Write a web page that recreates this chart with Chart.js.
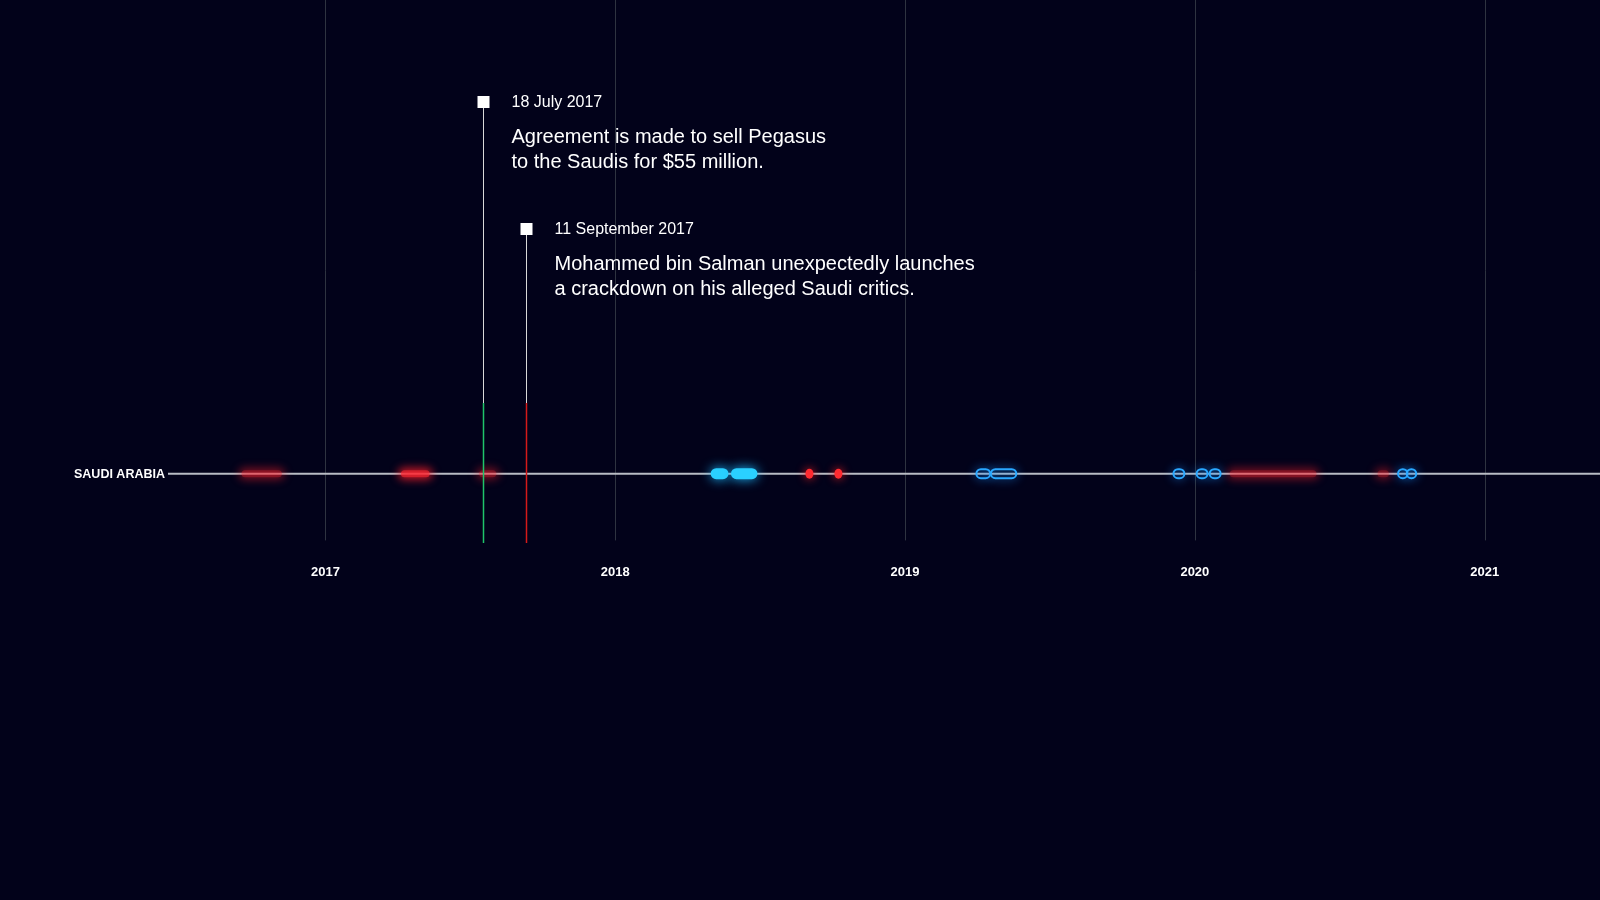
<!DOCTYPE html>
<html><head><meta charset="utf-8">
<script src="https://cdn.jsdelivr.net/npm/chart.js@4"></script>
<style>html,body{margin:0;background:#02021a;}#w{width:1600px;height:900px;}</style>
</head><body><div id="w"><canvas id="c"></canvas></div>
<script>
const years = [2017, 2018, 2019, 2020, 2021];
const rowLabel = 'SAUDI ARABIA';
// red smears: [start, end, intensity]
const redSpans = [[2016.70, 2016.86, 0.5], [2017.25, 2017.37, 1.0], [2017.52, 2017.60, 0.45], [2020.11, 2020.43, 0.45], [2020.62, 2020.68, 0.4]];
const redDots = [2018.67, 2018.77];
const blueFilled = [[2018.35, 2018.37], [2018.42, 2018.47]];
const blueRings = [[2019.26, 2019.28], [2019.31, 2019.37], [2019.94, 2019.95], [2020.02, 2020.03], [2020.065, 2020.075], [2020.715, 2020.72], [2020.745, 2020.75]];
const events = [
  {date: 2017.545, label: '18 July 2017', text: ['Agreement is made to sell Pegasus', 'to the Saudis for $55 million.'], color: '#1fc46a', top: 102},
  {date: 2017.693, label: '11 September 2017', text: ['Mohammed bin Salman unexpectedly launches', 'a crackdown on his alleged Saudi critics.'], color: '#d41a1a', top: 229}
];

const draw = {
  id: 'draw',
  beforeDatasetsDraw(chart) {
    const {ctx, chartArea: a, scales: {x, y}} = chart;
    const ry = y.getPixelForValue(0);
    ctx.save();
    ctx.strokeStyle = '#2e3340'; ctx.lineWidth = 1;
    years.forEach(v => { const px = Math.round(x.getPixelForValue(v)) + .5; ctx.beginPath(); ctx.moveTo(px, 0); ctx.lineTo(px, a.bottom); ctx.stroke(); });
    ctx.strokeStyle = '#b8bcc4'; ctx.lineWidth = 2;
    ctx.beginPath(); ctx.moveTo(168, ry); ctx.lineTo(a.right, ry); ctx.stroke();
    ctx.fillStyle = '#fff'; ctx.font = '600 12.5px "Liberation Sans", Arial'; ctx.textBaseline = 'middle';
    ctx.fillText(rowLabel, 74, ry + 1);
    redSpans.forEach(([s, e, k]) => {
      const x1 = x.getPixelForValue(s), x2 = x.getPixelForValue(e);
      ctx.filter = 'blur(4px)';
      ctx.fillStyle = `rgba(255,30,40,${0.6 * k + 0.15})`;
      ctx.beginPath(); ctx.roundRect(x1, ry - 6, x2 - x1, 12, 6); ctx.fill();
      ctx.filter = 'none';
      ctx.fillStyle = `rgba(255,40,50,${0.6 * k})`;
      ctx.beginPath(); ctx.roundRect(x1 + 3, ry - 3.5, x2 - x1 - 6, 7, 3.5); ctx.fill();
    });
    redDots.forEach(v => {
      const px = x.getPixelForValue(v);
      ctx.shadowColor = '#ff2020'; ctx.shadowBlur = 10; ctx.fillStyle = '#ff2a30';
      ctx.beginPath(); ctx.ellipse(px, ry, 4, 5, 0, 0, Math.PI * 2); ctx.fill();
    });
    blueFilled.forEach(([s, e]) => {
      const x1 = x.getPixelForValue(s), x2 = x.getPixelForValue(e);
      ctx.shadowColor = '#1ab8ff'; ctx.shadowBlur = 12; ctx.fillStyle = '#2ad0ff';
      ctx.beginPath(); ctx.roundRect(x1 - 6, ry - 5.5, x2 - x1 + 12, 11, 5.5); ctx.fill();
    });
    blueRings.forEach(([s, e]) => {
      const x1 = x.getPixelForValue(s), x2 = x.getPixelForValue(e);
      ctx.shadowColor = '#1a90ff'; ctx.shadowBlur = 10; ctx.strokeStyle = '#2aa8ff'; ctx.lineWidth = 2;
      ctx.beginPath(); ctx.roundRect(x1 - 4, ry - 4.5, x2 - x1 + 8, 9, 4.5); ctx.stroke();
    });
    ctx.shadowBlur = 0;
    events.forEach(ev => {
      const px = Math.round(x.getPixelForValue(ev.date)) + .5;
      ctx.strokeStyle = '#d8d8d8'; ctx.lineWidth = 1;
      ctx.beginPath(); ctx.moveTo(px, ev.top); ctx.lineTo(px, 403); ctx.stroke();
      ctx.strokeStyle = ev.color; ctx.lineWidth = 1.5;
      ctx.beginPath(); ctx.moveTo(px, 403); ctx.lineTo(px, 543); ctx.stroke();
      ctx.fillStyle = '#fff'; ctx.fillRect(px - 6, ev.top - 6, 12, 12);
      ctx.textBaseline = 'middle';
      ctx.font = '16px "Liberation Sans", Arial';
      ctx.fillText(ev.label, px + 28, ev.top + 1);
      ctx.font = '20px "Liberation Sans", Arial';
      ev.text.forEach((t, i) => ctx.fillText(t, px + 28, ev.top + 35 + i * 25));
    });
    ctx.restore();
  }
};

new Chart(document.getElementById('c'), {
  type: 'scatter',
  data: {datasets: [{data: [], showLine: false}]},
  options: {
    responsive: true, maintainAspectRatio: false, animation: false,
    layout: {padding: {top: 407, bottom: 304, left: 0, right: 0}},
    plugins: {legend: {display: false}, tooltip: {enabled: false}},
    scales: {
      x: {type: 'linear', min: 2015.877, max: 2021.398,
        afterBuildTicks: s => { s.ticks = years.map(v => ({value: v})); },
        grid: {display: false}, border: {display: false},
        ticks: {color: '#fff', font: {family: '"Liberation Sans", Arial', size: 13, weight: 'bold'}, padding: 16, callback: v => String(v)}},
      y: {display: false, min: -1, max: 1}
    }
  },
  plugins: [draw]
});
</script></body></html>
